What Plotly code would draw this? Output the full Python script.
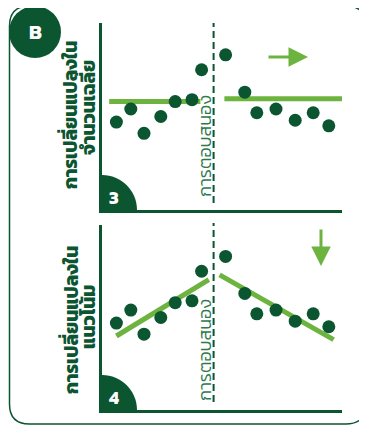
import plotly.graph_objects as go

# canvas size in px, used to place decorations in paper coords
W, H = 367, 426
OFF = 8  # page body margin in the browser
DARK = "#0b5530"
LIGHT = "#6cb33f"
THAI = "Kanit, Prompt, Noto Sans Thai, sans-serif"

# time points before / after the intervention (shared by both panels)
time_pre = [6, 12, 17.5, 24.5, 30.5, 37.5, 41.5]
time_post = [51.5, 59.5, 64.5, 72.5, 80.5, 88, 94.5]
resp_pre = [47, 54, 41, 50, 58, 59, 75]
resp_post = [83, 63, 52, 54, 48, 52, 45]
intervention = 46.5

# panel 3: change in level (flat lines)
level_pre_x = [3, 41]
level_pre_y = [58, 58]
level_post_x = [51, 100]
level_post_y = [59.5, 59.5]

# panel 4: change in trend (sloped lines)
trend_pre_x = [6, 44.5]
trend_pre_y = [40, 70.5]
trend_post_x = [49, 96.5]
trend_post_y = [73, 38]

ytitle_top = ["การเปลี่ยนแปลงใน", "จำนวนเฉลี่ย"]
ytitle_bot = ["การเปลี่ยนแปลงใน", "แนวโน้ม"]
vline_label = "การตอบสนอง"


def fx(p):
    return (p - OFF) / W


def fy(p):
    return 1 - (p - OFF) / H


def label(px, py, text, **kw):
    return dict(x=fx(px), y=fy(py), xref="paper", yref="paper", text=text,
                xanchor="center", yanchor="middle", showarrow=False, **kw)


fig = go.Figure()

for xa, ya, lx1, ly1, lx2, ly2 in [
    ("x", "y", level_pre_x, level_pre_y, level_post_x, level_post_y),
    ("x2", "y2", trend_pre_x, trend_pre_y, trend_post_x, trend_post_y),
]:
    fig.add_trace(go.Scatter(x=lx1, y=ly1, mode="lines", xaxis=xa, yaxis=ya,
                             line=dict(color=LIGHT, width=5), hoverinfo="skip"))
    fig.add_trace(go.Scatter(x=lx2, y=ly2, mode="lines", xaxis=xa, yaxis=ya,
                             line=dict(color=LIGHT, width=5), hoverinfo="skip"))
    fig.add_trace(go.Scatter(x=time_pre + time_post, y=resp_pre + resp_post,
                             mode="markers", xaxis=xa, yaxis=ya,
                             marker=dict(color=DARK, size=13)))

ax_style = dict(range=[0, 100], showgrid=False, zeroline=False, showticklabels=False,
                ticks="", showline=True, linecolor=DARK, linewidth=3, fixedrange=True)

shapes = []
annotations = []

# outer rounded frame
x0, x1, y0, y1, r = 9.5, 366, 6, 424, 20
pts = [("M", x0 + r, y0), ("L", x1 - r, y0), ("Q", x1, y0, x1, y0 + r),
       ("L", x1, y1 - r), ("Q", x1, y1, x1 - r, y1), ("L", x0 + r, y1),
       ("Q", x0, y1, x0, y1 - r), ("L", x0, y0 + r), ("Q", x0, y0, x0 + r, y0)]
path = ""
for p in pts:
    cmd = p[0]
    coords = p[1:]
    s = " ".join(f"{fx(coords[i]):.5f},{fy(coords[i+1]):.5f}" for i in range(0, len(coords), 2))
    path += f"{cmd}{s} "
shapes.append(dict(type="path", xref="paper", yref="paper", path=path + "Z",
                   line=dict(color=DARK, width=1.5)))

# circle B
shapes.append(dict(type="circle", xref="paper", yref="paper",
                   x0=fx(9), x1=fx(61), y0=fy(58), y1=fy(6),
                   fillcolor=DARK, line=dict(width=0)))
annotations.append(label(35, 32, "<b>B</b>", font=dict(color="white", size=20)))

k = 0.5523
panels = [("x", 23, 203, 210, "3", ytitle_top, (115, 108), 146, (308, 57, -41, 0)),
          ("x2", 223, 402, 410, "4", ytitle_bot, (320, 317), 350, (321, 266, 0, -38))]
for xa, ytop, ydash, ybot, num, title, ymid, ylab, arr in panels:
    # dashed intervention line
    shapes.append(dict(type="line", xref=xa, yref="paper", x0=intervention, x1=intervention,
                       y0=fy(ydash), y1=fy(ytop), line=dict(color=DARK, width=2, dash="7px,4px")))
    # quarter circle badge in the axes corner
    cx, cy, rr = 102, ybot, 35
    qp = [(cx, cy), (cx + rr, cy), (cx + rr, cy - k * rr), (cx + k * rr, cy - rr), (cx, cy - rr)]
    qs = [f"{fx(a):.5f},{fy(b):.5f}" for a, b in qp]
    shapes.append(dict(type="path", xref="paper", yref="paper", layer="above",
                       path=f"M{qs[0]} L{qs[1]} C{qs[2]} {qs[3]} {qs[4]} Z",
                       fillcolor=DARK, line=dict(width=0)))
    annotations.append(label(114, ybot - 13, f"<b>{num}</b>",
                             font=dict(color="white", size=18)))
    # rotated label by the dashed line
    annotations.append(label(204, ylab, vline_label, textangle=-90,
                             font=dict(family=THAI, color="#2e7a4e", size=18, weight=300)))
    # y titles
    annotations.append(label(71, ymid[0], f"<b>{title[0]}</b>", textangle=-90,
                             font=dict(family=THAI, color=DARK, size=19)))
    annotations.append(label(88, ymid[1], f"<b>{title[1]}</b>", textangle=-90,
                             font=dict(family=THAI, color=DARK, size=19)))
    # arrow
    hx, hy, ax, ay = arr
    annotations.append(dict(x=fx(hx), y=fy(hy), xref="paper", yref="paper", text="",
                            showarrow=True, ax=ax, ay=ay, arrowhead=2, arrowsize=1.3,
                            arrowwidth=3, arrowcolor=LIGHT, standoff=0))

fig.update_layout(
    width=W, height=H, margin=dict(l=0, r=0, t=0, b=0),
    paper_bgcolor="white", plot_bgcolor="white", showlegend=False,
    font=dict(family="Kanit, Noto Sans, sans-serif", color=DARK),
    xaxis=dict(domain=[fx(102), fx(342)], anchor="y", **ax_style),
    yaxis=dict(domain=[fy(210), fy(23)], anchor="x", **ax_style),
    xaxis2=dict(domain=[fx(102), fx(342)], anchor="y2", **ax_style),
    yaxis2=dict(domain=[fy(410), fy(225)], anchor="x2", **ax_style),
    shapes=shapes, annotations=annotations,
)

fig.write_html("out.html")
